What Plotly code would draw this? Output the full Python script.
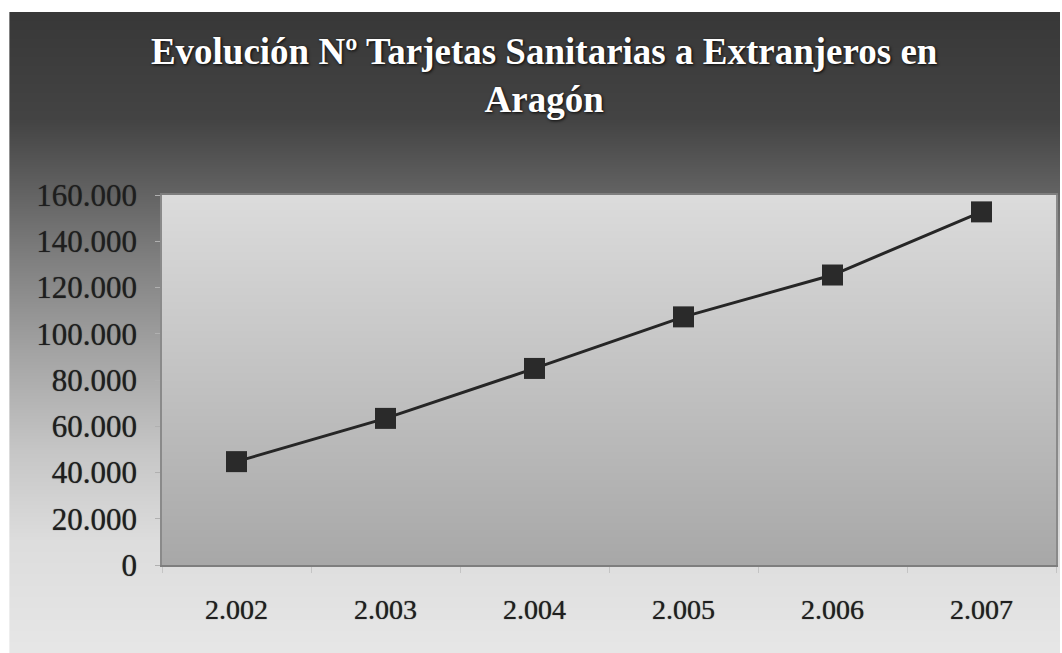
import base64
import struct
import zlib

import numpy as np
import plotly.graph_objects as go

# ---- data ----
years = ["2.002", "2.003", "2.004", "2.005", "2.006", "2.007"]
tarjetas = [44700, 63400, 85000, 107300, 125400, 152700]
y_tick_values = [0, 20000, 40000, 60000, 80000, 100000, 120000, 140000, 160000]
title_text = "Evolución Nº Tarjetas Sanitarias a Extranjeros en<br>Aragón"

# ---- layout geometry (pixels) ----
W, H = 1062, 653
L, R, T, B = 162, 4, 195, 88
PW = W - L - R
PH = H - T - B


def px_x(x):
    return (x - L) / PW


def px_y(y):
    return (H - B - y) / PH


def png_gray(arr):
    h, w = arr.shape
    raw = b"".join(b"\x00" + arr[i].tobytes() for i in range(h))

    def chunk(tag, data):
        c = struct.pack(">I", len(data)) + tag + data
        return c + struct.pack(">I", zlib.crc32(tag + data) & 0xFFFFFFFF)

    return (b"\x89PNG\r\n\x1a\n"
            + chunk(b"IHDR", struct.pack(">IIBBBBB", w, h, 8, 0, 0, 0, 0))
            + chunk(b"IDAT", zlib.compress(raw, 9))
            + chunk(b"IEND", b""))


# background picture: white margin, outer gradient, plot-area gradient
bg = np.full((H, W), 255.0)
rows = np.arange(H, dtype=float)
outer_y = [12, 120, 190, 260, 350, 450, 540, 653]
outer_v = [56, 68, 98, 128, 163, 198, 221, 231]
outer_col = np.interp(rows, outer_y, outer_v)
bg[12:, 9:] = outer_col[12:, None]
inner_col = np.interp(rows, [T, H - B], [220, 168])
bg[T:H - B, L:W - R] = inner_col[T:H - B, None]
bg_uri = "data:image/png;base64," + base64.b64encode(
    png_gray(np.clip(bg, 0, 255).astype(np.uint8))).decode()

fig = go.Figure()
fig.add_trace(go.Scatter(
    x=years, y=tarjetas, mode="lines+markers",
    line=dict(color="#262626", width=3),
    marker=dict(symbol="square", size=21, color="#2a2a2a",
                line=dict(width=0)),
    showlegend=False, hoverinfo="x+y",
))

tick_font = dict(family="Liberation Serif", color="#1e1e1e",
                 shadow="0px 0px 1px rgba(40,40,40,0.8)")

fig.update_layout(
    width=W, height=H,
    margin=dict(l=L, r=R, t=T, b=B, pad=0),
    paper_bgcolor="white",
    plot_bgcolor="rgba(0,0,0,0)",
    separators=",.",
    images=[dict(source=bg_uri, xref="paper", yref="paper",
                 x=px_x(0), y=px_y(0), sizex=W / PW, sizey=H / PH,
                 xanchor="left", yanchor="top", sizing="stretch",
                 layer="below")],
    title=dict(
        text=title_text,
        x=px_x(545), xref="paper", xanchor="center",
        y=1 - 64 / H, yref="container", yanchor="top",
        font=dict(family="Liberation Serif", size=37, color="white",
                  weight="bold", shadow="1px 1px 3px rgba(0,0,0,0.9)"),
    ),
    xaxis=dict(
        type="category", range=[-0.5, 5.5],
        showline=True, linecolor="#7e7e7e", linewidth=2, mirror=True,
        showgrid=False, zeroline=False,
        ticks="outside", tickson="boundaries", ticklen=6,
        tickcolor="#c4c4c4", tickwidth=1,
        ticklabelstandoff=18,
        tickfont=dict(size=28, **tick_font),
    ),
    yaxis=dict(
        range=[0, 160000], tickvals=y_tick_values, tickformat=",d",
        showline=True, linecolor="#8a8a8a", linewidth=1.5, mirror=True,
        showgrid=False, zeroline=False,
        ticks="outside", ticklen=5, tickcolor="#b0b0b0", tickwidth=1,
        ticklabelstandoff=12,
        tickfont=dict(size=31, **tick_font),
    ),
)

fig.write_html("out.html", config={"displayModeBar": False},
               post_script="document.body.style.margin='0';")
